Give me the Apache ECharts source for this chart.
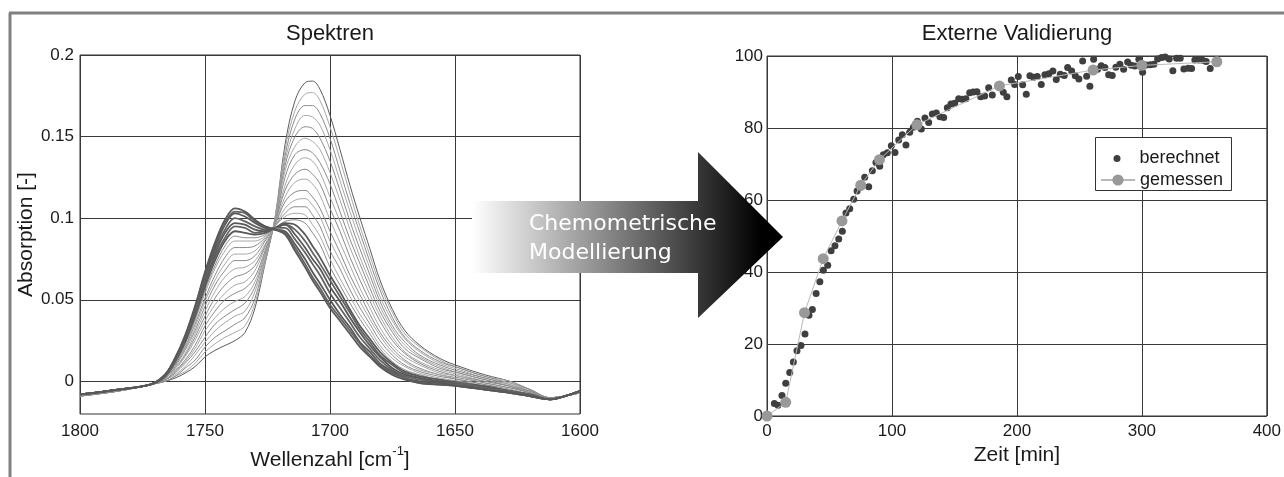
<!DOCTYPE html>
<html>
<head>
<meta charset="utf-8">
<script src="https://cdn.jsdelivr.net/npm/echarts/dist/echarts.min.js"></script>
<style>
  html, body { margin: 0; padding: 0; background: #fff; }
  #chart { width: 1284px; height: 477px; }
</style>
</head>
<body>
<div id="chart"></div>
<script>
// Spektren: Wellenzahl [cm^-1] und Absorption einzelner Messungen
const wellenzahlen = [1800, 1785, 1772, 1766, 1762, 1758, 1754, 1750, 1746, 1742, 1738, 1734, 1730, 1726, 1722, 1718, 1714, 1710, 1707, 1704, 1700, 1696, 1692, 1688, 1684, 1680, 1675, 1670, 1664, 1656, 1648, 1638, 1628, 1620, 1612, 1606, 1600]

const spektrum01 = [-0.009, -0.006, -0.002, 0.000, 0.002, 0.005, 0.009, 0.015, 0.019, 0.022, 0.025, 0.030, 0.045, 0.072, 0.100, 0.145, 0.172, 0.183, 0.184, 0.179, 0.163, 0.142, 0.120, 0.100, 0.081, 0.062, 0.044, 0.031, 0.022, 0.014, 0.009, 0.004, 0.000, -0.005, -0.010, -0.009, -0.007]
const spektrum02 = [-0.009, -0.006, -0.002, 0.000, 0.003, 0.006, 0.011, 0.018, 0.023, 0.027, 0.030, 0.034, 0.048, 0.073, 0.100, 0.142, 0.166, 0.176, 0.177, 0.172, 0.156, 0.136, 0.115, 0.095, 0.077, 0.059, 0.042, 0.029, 0.021, 0.013, 0.008, 0.003, 0.000, -0.005, -0.010, -0.009, -0.007]
const spektrum03 = [-0.009, -0.006, -0.002, 0.000, 0.003, 0.008, 0.013, 0.021, 0.027, 0.031, 0.035, 0.039, 0.051, 0.075, 0.099, 0.138, 0.161, 0.169, 0.169, 0.164, 0.149, 0.129, 0.109, 0.091, 0.073, 0.056, 0.039, 0.027, 0.019, 0.012, 0.008, 0.003, -0.001, -0.005, -0.010, -0.009, -0.007]
const spektrum04 = [-0.009, -0.006, -0.002, 0.001, 0.004, 0.009, 0.016, 0.024, 0.031, 0.036, 0.040, 0.043, 0.055, 0.076, 0.099, 0.135, 0.155, 0.163, 0.162, 0.157, 0.142, 0.123, 0.104, 0.086, 0.069, 0.052, 0.037, 0.026, 0.018, 0.011, 0.007, 0.002, -0.001, -0.006, -0.010, -0.009, -0.007]
const spektrum05 = [-0.009, -0.006, -0.002, 0.001, 0.005, 0.011, 0.018, 0.027, 0.035, 0.040, 0.044, 0.048, 0.058, 0.078, 0.098, 0.132, 0.150, 0.156, 0.155, 0.149, 0.135, 0.117, 0.098, 0.081, 0.065, 0.049, 0.034, 0.024, 0.016, 0.010, 0.006, 0.002, -0.002, -0.006, -0.010, -0.009, -0.007]
const spektrum06 = [-0.009, -0.006, -0.002, 0.001, 0.006, 0.012, 0.020, 0.031, 0.039, 0.045, 0.049, 0.052, 0.061, 0.079, 0.098, 0.129, 0.144, 0.149, 0.147, 0.142, 0.128, 0.111, 0.093, 0.076, 0.061, 0.046, 0.032, 0.022, 0.015, 0.009, 0.005, 0.001, -0.002, -0.006, -0.010, -0.009, -0.007]
const spektrum07 = [-0.009, -0.006, -0.002, 0.001, 0.006, 0.013, 0.022, 0.034, 0.043, 0.050, 0.054, 0.057, 0.064, 0.080, 0.097, 0.125, 0.139, 0.142, 0.140, 0.134, 0.121, 0.104, 0.087, 0.072, 0.057, 0.043, 0.030, 0.020, 0.014, 0.008, 0.005, 0.001, -0.003, -0.006, -0.010, -0.009, -0.007]
const spektrum08 = [-0.009, -0.006, -0.002, 0.002, 0.007, 0.015, 0.025, 0.037, 0.047, 0.054, 0.059, 0.061, 0.068, 0.082, 0.097, 0.120, 0.133, 0.137, 0.135, 0.128, 0.113, 0.098, 0.082, 0.067, 0.053, 0.040, 0.027, 0.018, 0.012, 0.007, 0.004, 0.000, -0.003, -0.007, -0.010, -0.009, -0.007]
const spektrum09 = [-0.009, -0.006, -0.002, 0.002, 0.008, 0.016, 0.027, 0.040, 0.051, 0.059, 0.064, 0.066, 0.071, 0.083, 0.097, 0.117, 0.127, 0.130, 0.127, 0.121, 0.106, 0.092, 0.076, 0.062, 0.049, 0.037, 0.025, 0.017, 0.011, 0.006, 0.003, 0.000, -0.003, -0.007, -0.010, -0.009, -0.007]
const spektrum10 = [-0.008, -0.005, -0.002, 0.002, 0.008, 0.017, 0.029, 0.043, 0.055, 0.064, 0.069, 0.070, 0.074, 0.084, 0.096, 0.113, 0.122, 0.124, 0.121, 0.114, 0.099, 0.085, 0.071, 0.057, 0.045, 0.033, 0.022, 0.015, 0.010, 0.005, 0.003, -0.001, -0.004, -0.007, -0.011, -0.009, -0.006]
const spektrum11 = [-0.008, -0.005, -0.002, 0.002, 0.009, 0.019, 0.031, 0.046, 0.059, 0.068, 0.074, 0.074, 0.077, 0.086, 0.096, 0.110, 0.116, 0.117, 0.113, 0.106, 0.092, 0.079, 0.065, 0.053, 0.041, 0.030, 0.020, 0.013, 0.008, 0.004, 0.002, -0.001, -0.004, -0.007, -0.011, -0.009, -0.006]
const spektrum12 = [-0.008, -0.005, -0.002, 0.003, 0.010, 0.020, 0.033, 0.049, 0.062, 0.072, 0.078, 0.078, 0.080, 0.087, 0.095, 0.106, 0.111, 0.112, 0.108, 0.101, 0.086, 0.074, 0.061, 0.049, 0.038, 0.028, 0.018, 0.012, 0.007, 0.004, 0.001, -0.002, -0.005, -0.008, -0.011, -0.009, -0.006]
const spektrum13 = [-0.008, -0.005, -0.002, 0.003, 0.010, 0.021, 0.035, 0.051, 0.065, 0.076, 0.082, 0.082, 0.083, 0.088, 0.095, 0.103, 0.107, 0.107, 0.102, 0.095, 0.080, 0.069, 0.056, 0.045, 0.035, 0.025, 0.016, 0.010, 0.006, 0.003, 0.001, -0.002, -0.005, -0.008, -0.011, -0.009, -0.006]
const spektrum14 = [-0.008, -0.005, -0.002, 0.003, 0.011, 0.022, 0.037, 0.054, 0.069, 0.080, 0.086, 0.086, 0.086, 0.089, 0.095, 0.101, 0.103, 0.102, 0.096, 0.089, 0.075, 0.063, 0.052, 0.041, 0.032, 0.022, 0.014, 0.009, 0.005, 0.002, 0.000, -0.003, -0.005, -0.008, -0.011, -0.009, -0.006]
const spektrum15 = [-0.008, -0.005, -0.002, 0.003, 0.011, 0.023, 0.038, 0.056, 0.071, 0.083, 0.089, 0.088, 0.088, 0.090, 0.094, 0.098, 0.099, 0.097, 0.091, 0.084, 0.070, 0.059, 0.048, 0.038, 0.029, 0.020, 0.012, 0.007, 0.004, 0.001, 0.000, -0.003, -0.006, -0.008, -0.011, -0.009, -0.006]
const spektrum16 = [-0.008, -0.005, -0.002, 0.003, 0.012, 0.024, 0.040, 0.058, 0.074, 0.086, 0.092, 0.091, 0.090, 0.091, 0.094, 0.097, 0.096, 0.090, 0.083, 0.076, 0.065, 0.055, 0.044, 0.034, 0.026, 0.018, 0.011, 0.006, 0.003, 0.001, -0.001, -0.003, -0.006, -0.008, -0.011, -0.009, -0.006]
const spektrum17 = [-0.008, -0.005, -0.002, 0.003, 0.012, 0.025, 0.041, 0.060, 0.076, 0.088, 0.095, 0.094, 0.091, 0.092, 0.094, 0.096, 0.093, 0.086, 0.079, 0.072, 0.062, 0.052, 0.042, 0.032, 0.024, 0.016, 0.010, 0.005, 0.002, 0.000, -0.001, -0.004, -0.006, -0.008, -0.011, -0.009, -0.006]
const spektrum18 = [-0.008, -0.005, -0.002, 0.004, 0.013, 0.025, 0.042, 0.061, 0.078, 0.091, 0.097, 0.096, 0.093, 0.092, 0.094, 0.096, 0.090, 0.082, 0.075, 0.069, 0.058, 0.049, 0.039, 0.030, 0.022, 0.015, 0.008, 0.004, 0.002, 0.000, -0.002, -0.004, -0.006, -0.009, -0.011, -0.009, -0.006]
const spektrum19 = [-0.008, -0.005, -0.002, 0.004, 0.013, 0.026, 0.043, 0.063, 0.080, 0.093, 0.100, 0.098, 0.095, 0.093, 0.094, 0.094, 0.087, 0.079, 0.072, 0.065, 0.054, 0.045, 0.036, 0.027, 0.020, 0.013, 0.007, 0.003, 0.001, -0.001, -0.002, -0.004, -0.006, -0.009, -0.011, -0.009, -0.006]
const spektrum20 = [-0.008, -0.005, -0.002, 0.004, 0.014, 0.027, 0.045, 0.065, 0.082, 0.096, 0.103, 0.101, 0.097, 0.094, 0.093, 0.092, 0.084, 0.075, 0.067, 0.060, 0.050, 0.041, 0.033, 0.024, 0.018, 0.011, 0.006, 0.002, 0.000, -0.001, -0.003, -0.005, -0.007, -0.009, -0.011, -0.009, -0.006]
const spektrum21 = [-0.008, -0.005, -0.002, 0.004, 0.014, 0.027, 0.045, 0.066, 0.084, 0.097, 0.104, 0.103, 0.098, 0.095, 0.093, 0.091, 0.082, 0.072, 0.064, 0.057, 0.047, 0.039, 0.031, 0.023, 0.016, 0.010, 0.005, 0.002, -0.001, -0.002, -0.003, -0.005, -0.007, -0.009, -0.011, -0.009, -0.006]
const spektrum22 = [-0.008, -0.005, -0.002, 0.004, 0.014, 0.028, 0.046, 0.067, 0.085, 0.099, 0.106, 0.104, 0.099, 0.095, 0.093, 0.090, 0.080, 0.070, 0.062, 0.055, 0.045, 0.037, 0.029, 0.021, 0.015, 0.009, 0.004, 0.001, -0.001, -0.002, -0.003, -0.005, -0.007, -0.009, -0.011, -0.009, -0.006]

const spektren = [spektrum01, spektrum02, spektrum03, spektrum04, spektrum05, spektrum06, spektrum07, spektrum08,
  spektrum09, spektrum10, spektrum11, spektrum12, spektrum13, spektrum14, spektrum15, spektrum16,
  spektrum17, spektrum18, spektrum19, spektrum20, spektrum21, spektrum22]

// Externe Validierung: [Zeit in min, Umsatz]
const berechnet = [
  [5.9, 3.5], [8.8, 3.0], [12, 5.7], [15, 9.1], [18.2, 12.1], [21.1, 15], [24, 18.1], [27.2, 19.6],
  [30.4, 22.8], [33.6, 28], [36.3, 29.6], [39.3, 34], [42.3, 37.3], [45.1, 40.5], [48.6, 41.9],
  [51.3, 45.9], [54.4, 47.3], [57.4, 49.2], [60.3, 51.3], [63.2, 56.4], [66.2, 57.6], [69.4, 60.2],
  [72.1, 62.5], [75.2, 63.6], [78.2, 66.3], [81.4, 63.7], [84.3, 68.1], [87.2, 70.4], [90.2, 69.4],
  [93.1, 72.6], [96.3, 73.1], [99.5, 75.1], [102.4, 73.2], [105.4, 76.7], [108.3, 78.1], [111.2, 75.3],
  [114.2, 78.8], [117.1, 80.2], [120.3, 81.9], [123.5, 79.7], [126.4, 82.8], [129.4, 81.5], [132.3, 83.9],
  [135.5, 84.2], [138.4, 83.1], [141.4, 82.9], [144.3, 85.6], [147.2, 86.7], [150.2, 86.9], [153.4, 88.1],
  [156.3, 88], [159.2, 88.1], [162.2, 89.8], [165.1, 90], [168, 90.1], [171, 88.7], [174.2, 88.9],
  [177.4, 91.2], [180.3, 89.2], [189.1, 89.9], [192, 88.7], [195.5, 93.3], [198.2, 92.1], [201.1, 94.3],
  [204.6, 92], [207.5, 89.4], [210.4, 94.5], [213.4, 94.1], [216.3, 94.3], [219.5, 92.1], [222.4, 94.8],
  [225.6, 95.1], [228.8, 95.8], [231.5, 93.5], [234.7, 94.9], [237.9, 94.6], [240.6, 96.8], [243.8, 95.8],
  [246.7, 94.5], [249.6, 93.6], [252.6, 98.6], [255.8, 94.4], [258.4, 91.6], [261.4, 99.1], [264.6, 96.3],
  [267.5, 97.3], [270.4, 96.8], [273.4, 94.8], [276.3, 94.6], [279.2, 96.9], [282.4, 97.7], [285.4, 96.3],
  [288.6, 98.3], [291.5, 97.4], [294.4, 97.2], [297.6, 99.1], [300.6, 95.5], [303.5, 97.5], [306.7, 97.6],
  [309.6, 97.7], [312.6, 99.2], [315.8, 99.6], [318.7, 99.7], [321.9, 99.2], [324.8, 95.9], [327.8, 99.4],
  [330.7, 99.4], [333.6, 96.4], [337, 96.6], [339.8, 96.5], [342.4, 98.9], [345.5, 98.9], [348.6, 98.8],
  [351.5, 98.5], [354.7, 96.5]
]
const gemessenZeit = [0, 15, 30, 45, 60, 75, 90, 120, 186, 261, 300, 360]
const gemessenWert = [0, 3.8, 28.7, 43.7, 54.2, 64.1, 71.2, 80.9, 91.7, 96.1, 97.4, 98.4]

const absorptionTicks = [0, 0.05, 0.1, 0.15, 0.2]

const schrift = '"Liberation Sans", Arial, Helvetica, sans-serif'

function linienStil(i) {
  if (i === 0) return { color: '#5c5c5c', width: 1 }
  if (i >= 15) return { color: i % 2 ? '#585858' : '#636363', width: 1.8 }
  return { color: i % 2 ? '#a8a8a8' : '#8a8a8a', width: 1 }
}

function textStil(size) {
  return { color: '#1a1a1a', fontSize: size, fontFamily: schrift }
}

function chartInit(node) {
  const myChart = echarts.init(node)

  const spektrenSerien = spektren.map((werte, i) => ({
    type: 'line',
    xAxisIndex: 0,
    yAxisIndex: 0,
    data: wellenzahlen.map((w, j) => [w, werte[j]]),
    smooth: 0.35,
    showSymbol: false,
    silent: true,
    lineStyle: linienStil(i),
    z: 2
  }))

  const pfeilVerlauf = new echarts.graphic.LinearGradient(0, 0, 1, 0, [
    { offset: 0, color: '#ffffff' },
    { offset: 0.93, color: '#000000' },
    { offset: 1, color: '#000000' }
  ])

  myChart.setOption({
    animation: false,
    backgroundColor: '#fff',
    title: [
      { text: 'Spektren', left: 330, top: 23, textAlign: 'center', padding: 0,
        textStyle: { ...textStil(22), fontWeight: 'normal' } },
      { text: 'Externe Validierung', left: 1017, top: 23, textAlign: 'center', padding: 0,
        textStyle: { ...textStil(22), fontWeight: 'normal' } }
    ],
    grid: [
      { left: 80, top: 55, width: 500, height: 359, show: true, borderColor: '#333', borderWidth: 1 },
      { left: 767, top: 56, width: 500, height: 360, show: true, borderColor: '#333', borderWidth: 1 }
    ],
    legend: [
      { data: [{ name: 'berechnet', icon: 'circle' }], left: 1113.5, top: 149.5, padding: 0,
        itemWidth: 7, itemHeight: 7, selectedMode: false,
        textStyle: { ...textStil(18), padding: [0, 0, 0, 14] } },
      { data: ['gemessen'], left: 1100, top: 171, padding: 0,
        itemWidth: 34, itemHeight: 14, selectedMode: false, textStyle: textStil(18) }
    ],
    xAxis: [
      {
        gridIndex: 0, type: 'value', min: 1600, max: 1800, interval: 50, inverse: true,
        axisLine: { show: false }, axisTick: { show: false },
        axisLabel: { ...textStil(17), margin: 9, formatter: v => String(v) },
        splitLine: { lineStyle: { color: '#3a3a3a', width: 1 } },
        name: '{n|Wellenzahl [cm}{s|-1}{n|]}', nameLocation: 'middle', nameGap: 20,
        nameTextStyle: { rich: {
          n: { ...textStil(21), lineHeight: 30 },
          s: { ...textStil(13), verticalAlign: 'top' }
        } }
      },
      {
        gridIndex: 1, type: 'value', min: 0, max: 400, interval: 100,
        axisLine: { show: false }, axisTick: { show: false },
        axisLabel: { ...textStil(17), margin: 7, formatter: v => String(v) },
        splitLine: { lineStyle: { color: '#3a3a3a', width: 1 } },
        name: 'Zeit [min]', nameLocation: 'middle', nameGap: 14, nameTextStyle: textStil(21)
      }
    ],
    yAxis: [
      {
        gridIndex: 0, type: 'value', min: -0.02, max: 0.2,
        axisLine: { show: false },
        axisTick: { show: false, customValues: absorptionTicks },
        axisLabel: { ...textStil(17), margin: 6, customValues: absorptionTicks, formatter: v => String(v) },
        splitLine: { lineStyle: { color: '#3a3a3a', width: 1 } },
        name: 'Absorption [-]', nameLocation: 'middle', nameGap: 37, nameRotate: 90,
        nameTextStyle: textStil(21)
      },
      {
        gridIndex: 1, type: 'value', min: 0, max: 100, interval: 20,
        axisLine: { show: false }, axisTick: { show: false },
        axisLabel: { ...textStil(17), margin: 4 },
        splitLine: { lineStyle: { color: '#3a3a3a', width: 1 } }
      }
    ],
    series: [
      ...spektrenSerien,
      {
        name: 'berechnet', type: 'scatter', xAxisIndex: 1, yAxisIndex: 1,
        data: berechnet, symbolSize: 7, itemStyle: { color: '#3f3f3f', opacity: 1 }, z: 3
      },
      {
        name: 'gemessen', type: 'line', xAxisIndex: 1, yAxisIndex: 1,
        data: gemessenZeit.map((t, i) => [t, gemessenWert[i]]),
        symbol: 'circle', symbolSize: 11, showSymbol: true,
        lineStyle: { color: '#b8b8b8', width: 1 },
        itemStyle: { color: '#999999' }, z: 4
      }
    ],
    graphic: [
      { type: 'line', shape: { x1: 9, y1: 13, x2: 1284, y2: 13 }, style: { stroke: '#808080', lineWidth: 3 }, z: 50 },
      { type: 'line', shape: { x1: 10, y1: 13, x2: 10, y2: 477 }, style: { stroke: '#808080', lineWidth: 3 }, z: 50 },
      { type: 'rect', shape: { x: 1095.5, y: 137.5, width: 136, height: 53 },
        style: { fill: '#fff', stroke: '#333', lineWidth: 1 }, z: 3 },
      { type: 'polygon',
        shape: { points: [[472, 201], [698, 201], [698, 152], [783, 237], [698, 318], [698, 273], [472, 273]] },
        style: { fill: pfeilVerlauf }, z: 100 },
      { type: 'text', style: { x: 529, y: 224, text: 'Chemometrische', fill: '#fff',
        font: '22px "DejaVu Sans"', verticalAlign: 'middle' }, z: 101 },
      { type: 'text', style: { x: 529, y: 253, text: 'Modellierung', fill: '#fff',
        font: '22px "DejaVu Sans"', verticalAlign: 'middle' }, z: 101 }
    ]
  })
}

chartInit(document.getElementById('chart'))
</script>
</body>
</html>
